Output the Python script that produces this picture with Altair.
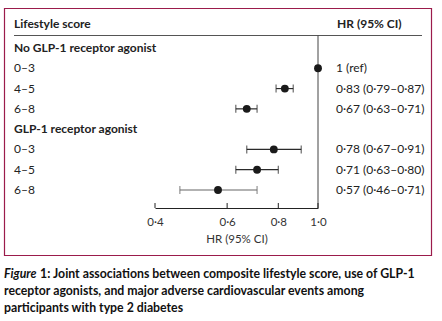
import altair as alt
import pandas as pd

# ---- data ----
row_labels = ["No GLP-1 receptor agonist", "0–3", "4–5", "6–8",
              "GLP-1 receptor agonist", "0–3", "4–5", "6–8"]
row_is_group = [True, False, False, False, True, False, False, False]
hr_rows = [1, 2, 3, 5, 6, 7]
hr = [1.00, 0.83, 0.67, 0.78, 0.71, 0.57]
lo = [None, 0.79, 0.63, 0.67, 0.63, 0.46]
hi = [None, 0.87, 0.71, 0.91, 0.80, 0.71]
hr_text = ["1 (ref)", "0·83 (0·79–0·87)", "0·67 (0·63–0·71)",
           "0·78 (0·67–0·91)", "0·71 (0·63–0·80)", "0·57 (0·46–0·71)"]
tick_values = [0.4, 0.6, 0.8, 1.0]
caption_lines = ["Joint associations between composite lifestyle score, use of GLP-1",
                 "receptor agonists, and major adverse cardiovascular events among",
                 "participants with type 2 diabetes"]

FONT = "Lato"
FS = 12
labels_df = pd.DataFrame({"row": list(range(len(row_labels))),
                          "label": row_labels, "group": row_is_group})
est_df = pd.DataFrame({"row": hr_rows, "hr": hr, "lo": lo, "hi": hi, "txt": hr_text})
ci_df = est_df.dropna()
ticks_df = pd.DataFrame({"v": tick_values})

xs = alt.Scale(type="log", domain=[0.4, 1.0], range=[155, 318])
ys = alt.Scale(domain=[0, 7], range=[48, 190])

base_frame = alt.Chart(pd.DataFrame({"a": [0]}))

frame = base_frame.mark_rect(fill=None, stroke="#9b1b4b", strokeWidth=1.2).encode(
    x=alt.value(4.5), x2=alt.value(431.5), y=alt.value(8.5), y2=alt.value(255.5))

header_line = base_frame.mark_rule(color="#555", strokeWidth=1).encode(
    x=alt.value(14), x2=alt.value(422), y=alt.value(35.5))

header_left = base_frame.mark_text(align="left", baseline="middle", font=FONT,
                                   fontSize=FS, fontWeight="bold", color="#222").encode(
    x=alt.value(14), y=alt.value(24), text=alt.value("Lifestyle score"))
header_right = base_frame.mark_text(align="left", baseline="middle", font=FONT,
                                    fontSize=FS, fontWeight="bold", color="#222").encode(
    x=alt.value(337), y=alt.value(24), text=alt.value("HR (95% CI)"))

ref_line = base_frame.mark_rule(color="#444", strokeWidth=1).encode(
    x=alt.datum(1.0, scale=xs), y=alt.value(35.5), y2=alt.value(208))

group_text = alt.Chart(labels_df).transform_filter("datum.group").mark_text(
    align="left", baseline="middle", font=FONT, fontSize=FS, fontWeight="bold",
    color="#222").encode(
    x=alt.value(14), y=alt.Y("row:Q", scale=ys, axis=None), text="label:N")
row_text = alt.Chart(labels_df).transform_filter("!datum.group").mark_text(
    align="left", baseline="middle", font=FONT, fontSize=FS, color="#222").encode(
    x=alt.value(14), y=alt.Y("row:Q", scale=ys, axis=None), text="label:N")

ci_color = alt.condition("datum.row == 7", alt.value("#666"), alt.value("#2a2a2a"))
ci = alt.Chart(ci_df).mark_rule(strokeWidth=1.2).encode(
    x=alt.X("lo:Q", scale=xs), x2="hi:Q",
    y=alt.Y("row:Q", scale=ys), color=ci_color)
cap_lo = alt.Chart(ci_df).mark_tick(orient="vertical", size=8, thickness=1.2).encode(
    x=alt.X("lo:Q", scale=xs), y=alt.Y("row:Q", scale=ys), color=ci_color)
cap_hi = alt.Chart(ci_df).mark_tick(orient="vertical", size=8, thickness=1.2).encode(
    x=alt.X("hi:Q", scale=xs), y=alt.Y("row:Q", scale=ys), color=ci_color)

points = alt.Chart(est_df).mark_circle(size=62, color="#1a1a1a", opacity=1).encode(
    x=alt.X("hr:Q", scale=xs,
            axis=alt.Axis(values=tick_values, ticks=False, grid=False,
                          labelExpr="replace(format(datum.value, '.1f'), '.', '·')",
                          title="HR (95% CI)", domainColor="#222", labelPadding=8,
                          labelFont=FONT, labelFontSize=11.5, labelColor="#333",
                          titleFont=FONT, titleFontSize=11.5, titleFontWeight="normal",
                          titleColor="#333", titlePadding=6, labelFlush=False)),
    y=alt.Y("row:Q", scale=ys))

est_text = alt.Chart(est_df).mark_text(align="left", baseline="middle", font=FONT,
                                       fontSize=FS, color="#222").encode(
    x=alt.value(336), y=alt.Y("row:Q", scale=ys), text="txt:N")

axis_ticks = alt.Chart(ticks_df).mark_rule(color="#222", strokeWidth=1).encode(
    x=alt.X("v:Q", scale=xs), y=alt.value(203), y2=alt.value(208))


def cap_text(txt, x, y, italic=False):
    kw = dict(align="left", baseline="middle", font=FONT, fontSize=12.3,
              fontWeight="bold", color="#111")
    if italic:
        kw["fontStyle"] = "italic"
    return base_frame.mark_text(**kw).encode(
        x=alt.value(x), y=alt.value(y), text=alt.value(txt))


caps = [cap_text("Figure", 4, 274, italic=True),
        cap_text("1:", 40, 274),
        cap_text(caption_lines[0], 53, 274),
        cap_text(caption_lines[1], 4, 291),
        cap_text(caption_lines[2], 4, 308)]

chart = alt.layer(frame, header_line, header_left, header_right, ref_line, group_text,
                  row_text, ci, cap_lo, cap_hi, points, est_text, axis_ticks,
                  *caps).properties(
    width=442, height=208,
    autosize=alt.AutoSizeParams(type="none"),
    padding={"left": 0, "top": 0, "right": 0, "bottom": 113},
    background="white",
).configure_view(stroke=None)

chart.save("out.html", embed_options={"renderer": "svg", "actions": False})
